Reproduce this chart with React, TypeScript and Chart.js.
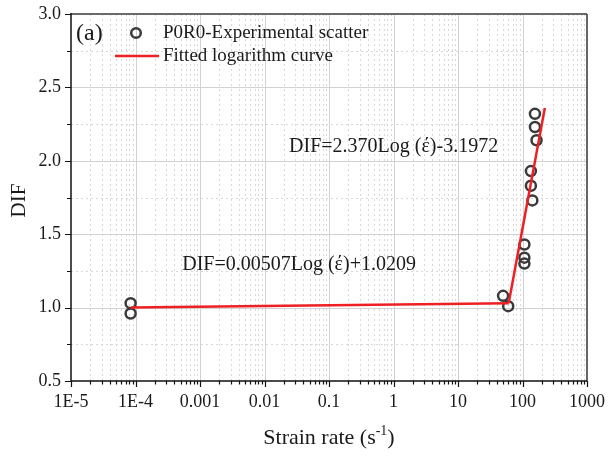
import { useEffect, useRef } from 'react';
import { Chart, registerables } from 'chart.js';

Chart.register(...registerables);

// ---- axis ticks ----
const X_MAJOR_TICKS = [1e-5, 1e-4, 1e-3, 1e-2, 1e-1, 1, 10, 100, 1000];
const X_TICK_LABELS = ['1E-5', '1E-4', '0.001', '0.01', '0.1', '1', '10', '100', '1000'];
const X_MINOR_MULTIPLIERS = [2, 3, 4, 5, 6, 7, 8, 9];
const Y_MAJOR_TICKS = [0.5, 1.0, 1.5, 2.0, 2.5, 3.0];
const Y_MINOR_TICKS = [0.75, 1.25, 1.75, 2.25, 2.75];

// ---- experimental scatter (P0R0) ----
const STRAIN_RATE = [8.4e-5, 8.4e-5, 50, 60, 107, 107, 107, 135, 135, 142, 156, 156, 165];
const DIF_VALUES = [1.03, 0.96, 1.08, 1.01, 1.43, 1.34, 1.3, 1.93, 1.83, 1.73, 2.32, 2.23, 2.14];

// ---- fitted logarithm curve (two branches) ----
const FIT_LOW_RATE = [8.4e-5, 61];
const FIT_LOW_DIF = [1.0, 1.03];
const FIT_HIGH_RATE = [61, 222];
const FIT_HIGH_DIF = [1.03, 2.36];

// ---- equation annotations ----
const EQ_TEXTS = ['DIF=2.370Log (\u03AD)-3.1972', 'DIF=0.00507Log (\u03AD)+1.0209'];
const EQ_RATE = [0.024, 5.3e-4];
const EQ_DIF = [2.094, 1.29];

const LEGEND_LABELS = ['P0R0-Experimental scatter', 'Fitted logarithm curve'];
const PANEL_LABEL = '(a)';
const X_TITLE = ['Strain rate (s', '-1', ')'];
const Y_TITLE = 'DIF';

const FONT = '"Liberation Serif", "Times New Roman", serif';
const TEXT = '#1a1a1a';
const RED = 'rgb(238, 32, 36)';
const MARKER = '#3a3a3a';

const decorPlugin = {
  id: 'decor',
  beforeDatasetsDraw(chart: any) {
    const { ctx, chartArea: a } = chart;
    const xs = chart.scales.x;
    const ys = chart.scales.y;
    ctx.save();
    ctx.lineWidth = 1;
    // minor dashed grid
    ctx.strokeStyle = '#d8d8d8';
    ctx.setLineDash([2, 3]);
    ctx.beginPath();
    for (let i = 0; i < X_MAJOR_TICKS.length - 1; i++) {
      for (const m of X_MINOR_MULTIPLIERS) {
        const px = Math.round(xs.getPixelForValue(X_MAJOR_TICKS[i] * m)) + 0.5;
        ctx.moveTo(px, a.top);
        ctx.lineTo(px, a.bottom);
      }
    }
    for (const v of Y_MINOR_TICKS) {
      const py = Math.round(ys.getPixelForValue(v)) + 0.5;
      ctx.moveTo(a.left, py);
      ctx.lineTo(a.right, py);
    }
    ctx.stroke();
    // major solid grid
    ctx.setLineDash([]);
    ctx.strokeStyle = '#d2d2d2';
    ctx.beginPath();
    for (const v of X_MAJOR_TICKS.slice(1, -1)) {
      const px = Math.round(xs.getPixelForValue(v)) + 0.5;
      ctx.moveTo(px, a.top);
      ctx.lineTo(px, a.bottom);
    }
    for (const v of Y_MAJOR_TICKS.slice(1, -1)) {
      const py = Math.round(ys.getPixelForValue(v)) + 0.5;
      ctx.moveTo(a.left, py);
      ctx.lineTo(a.right, py);
    }
    ctx.stroke();
    ctx.restore();
  },
  afterDatasetsDraw(chart: any) {
    const { ctx, chartArea: a } = chart;
    const xs = chart.scales.x;
    const ys = chart.scales.y;
    ctx.save();
    // frame
    ctx.lineWidth = 2;
    ctx.strokeStyle = '#6a6a6a';
    ctx.beginPath();
    ctx.moveTo(a.left, a.top);
    ctx.lineTo(a.right, a.top);
    ctx.stroke();
    ctx.strokeStyle = '#333';
    ctx.lineWidth = 1.5;
    ctx.beginPath();
    ctx.moveTo(a.right, a.top);
    ctx.lineTo(a.right, a.bottom);
    ctx.stroke();
    ctx.strokeStyle = '#111';
    ctx.lineWidth = 1.5;
    ctx.beginPath();
    ctx.moveTo(a.left, a.top - 1);
    ctx.lineTo(a.left, a.bottom);
    ctx.lineTo(a.right, a.bottom);
    ctx.stroke();
    // tick marks
    ctx.lineWidth = 1.2;
    ctx.beginPath();
    for (const v of Y_MAJOR_TICKS) {
      const py = Math.round(ys.getPixelForValue(v)) + 0.5;
      ctx.moveTo(a.left - 6, py);
      ctx.lineTo(a.left, py);
    }
    for (const v of Y_MINOR_TICKS) {
      const py = Math.round(ys.getPixelForValue(v)) + 0.5;
      ctx.moveTo(a.left - 4, py);
      ctx.lineTo(a.left, py);
    }
    for (const v of X_MAJOR_TICKS) {
      const px = Math.round(xs.getPixelForValue(v)) + 0.5;
      ctx.moveTo(px, a.bottom);
      ctx.lineTo(px, a.bottom + 6);
    }
    for (let i = 0; i < X_MAJOR_TICKS.length - 1; i++) {
      for (const m of X_MINOR_MULTIPLIERS) {
        const px = Math.round(xs.getPixelForValue(X_MAJOR_TICKS[i] * m)) + 0.5;
        ctx.moveTo(px, a.bottom);
        ctx.lineTo(px, a.bottom + 3.5);
      }
    }
    ctx.stroke();
    ctx.restore();
  },
  afterDraw(chart: any) {
    const { ctx, chartArea: a } = chart;
    const xs = chart.scales.x;
    const ys = chart.scales.y;
    ctx.save();
    ctx.fillStyle = TEXT;
    ctx.textBaseline = 'middle';
    ctx.textAlign = 'left';
    // panel label
    ctx.font = `24px ${FONT}`;
    ctx.fillText(PANEL_LABEL, a.left + 5, a.top + 20);
    // legend
    ctx.font = `19px ${FONT}`;
    ctx.beginPath();
    ctx.lineWidth = 2.5;
    ctx.strokeStyle = MARKER;
    ctx.arc(a.left + 65, a.top + 19, 4.8, 0, Math.PI * 2);
    ctx.stroke();
    ctx.fillText(LEGEND_LABELS[0], a.left + 92, a.top + 19);
    ctx.beginPath();
    ctx.strokeStyle = RED;
    ctx.lineWidth = 2.5;
    ctx.moveTo(a.left + 44, a.top + 42);
    ctx.lineTo(a.left + 88, a.top + 42);
    ctx.stroke();
    ctx.fillText(LEGEND_LABELS[1], a.left + 92, a.top + 42);
    // equations
    ctx.font = `20px ${FONT}`;
    EQ_TEXTS.forEach((t, i) => {
      ctx.fillText(t, xs.getPixelForValue(EQ_RATE[i]), ys.getPixelForValue(EQ_DIF[i]));
    });
    // x title with superscript
    const big = `22px ${FONT}`;
    const small = `14px ${FONT}`;
    ctx.font = big;
    const w1 = ctx.measureText(X_TITLE[0]).width;
    const w3 = ctx.measureText(X_TITLE[2]).width;
    ctx.font = small;
    const w2 = ctx.measureText(X_TITLE[1]).width;
    const cx = (a.left + a.right) / 2;
    let sx = cx - (w1 + w2 + w3) / 2;
    const base = a.bottom + 63;
    ctx.textBaseline = 'alphabetic';
    ctx.font = big;
    ctx.fillText(X_TITLE[0], sx, base);
    sx += w1;
    ctx.font = small;
    ctx.fillText(X_TITLE[1], sx, base - 9);
    sx += w2;
    ctx.font = big;
    ctx.fillText(X_TITLE[2], sx, base);
    // y title
    ctx.save();
    ctx.translate(19, (a.top + a.bottom) / 2 + 3);
    ctx.rotate(-Math.PI / 2);
    ctx.textAlign = 'center';
    ctx.textBaseline = 'middle';
    ctx.font = `21px ${FONT}`;
    ctx.fillText(Y_TITLE, 0, 0);
    ctx.restore();
    ctx.restore();
  },
};

export default function App() {
  const canvasRef = useRef<HTMLCanvasElement | null>(null);

  useEffect(() => {
    document.body.style.margin = '0';
    const canvas = canvasRef.current;
    if (!canvas) return;
    const zeroPad = (s: any) => {
      s.paddingLeft = 0;
      s.paddingRight = 0;
      s.paddingTop = 0;
      s.paddingBottom = 0;
    };
    const chart = new Chart(canvas, {
      type: 'scatter',
      data: {
        datasets: [
          {
            label: LEGEND_LABELS[0],
            data: STRAIN_RATE.map((r, i) => ({ x: r, y: DIF_VALUES[i] })),
            showLine: false,
            pointStyle: 'circle',
            pointRadius: 5,
            pointBorderWidth: 2.5,
            borderColor: MARKER,
            backgroundColor: 'rgba(0,0,0,0)',
            pointBackgroundColor: 'rgba(0,0,0,0)',
            pointBorderColor: MARKER,
            order: 2,
          },
          {
            label: LEGEND_LABELS[1],
            data: FIT_LOW_RATE.map((r, i) => ({ x: r, y: FIT_LOW_DIF[i] })),
            showLine: true,
            pointRadius: 0,
            borderColor: RED,
            borderWidth: 2.5,
            order: 1,
          },
          {
            label: LEGEND_LABELS[1],
            data: FIT_HIGH_RATE.map((r, i) => ({ x: r, y: FIT_HIGH_DIF[i] })),
            showLine: true,
            pointRadius: 0,
            borderColor: RED,
            borderWidth: 2.5,
            order: 1,
          },
        ],
      },
      options: {
        responsive: false,
        animation: false,
        devicePixelRatio: 1,
        layout: { padding: { left: 0, right: 22, top: 14, bottom: 0 } },
        plugins: { legend: { display: false }, tooltip: { enabled: false } },
        scales: {
          x: {
            type: 'logarithmic',
            min: 1e-5,
            max: 1000,
            grid: { display: false, drawTicks: false, tickLength: 0 },
            border: { display: false },
            afterBuildTicks: (s: any) => {
              s.ticks = X_MAJOR_TICKS.map((v) => ({ value: v }));
            },
            afterFit: (s: any) => {
              s.height = 75;
              zeroPad(s);
            },
            ticks: {
              autoSkip: false,
              maxRotation: 0,
              padding: 10,
              color: TEXT,
              font: { family: FONT, size: 18 },
              callback: (v: any) => {
                const idx = X_MAJOR_TICKS.findIndex(
                  (t) => Math.abs(Math.log10(t) - Math.log10(Number(v))) < 1e-6
                );
                return idx >= 0 ? X_TICK_LABELS[idx] : '';
              },
            },
          },
          y: {
            type: 'linear',
            min: 0.5,
            max: 3.0,
            grid: { display: false, drawTicks: false, tickLength: 0 },
            border: { display: false },
            afterBuildTicks: (s: any) => {
              s.ticks = Y_MAJOR_TICKS.map((v) => ({ value: v }));
            },
            afterFit: (s: any) => {
              s.width = 71;
              zeroPad(s);
            },
            ticks: {
              autoSkip: false,
              padding: 10,
              color: TEXT,
              font: { family: FONT, size: 18 },
              callback: (v: any) => Number(v).toFixed(1),
            },
          },
        },
      },
      plugins: [decorPlugin],
    } as any);
    return () => chart.destroy();
  }, []);

  return (
    <div style={{ width: 609, height: 456, position: 'relative', background: '#fff' }}>
      <canvas ref={canvasRef} width={609} height={456} style={{ display: 'block' }} />
    </div>
  );
}
